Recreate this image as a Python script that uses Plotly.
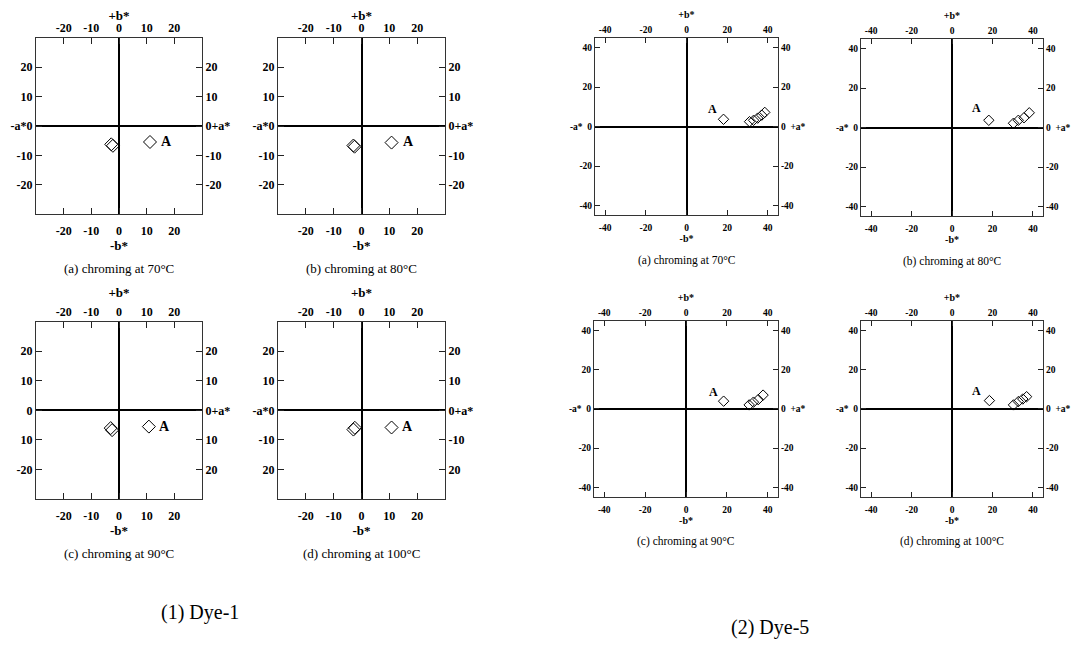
import plotly.graph_objects as go

OFF = 8                      # page body margin of the browser
W, H = 1088 - 2 * OFF, 647 - 2 * OFF

# ---------------- data ----------------
panel_keys = ["d1a", "d1b", "d1c", "d1d", "d5a", "d5b", "d5c", "d5d"]
captions = {
    "d1a": "(a) chroming at 70°C", "d1b": "(b) chroming at 80°C",
    "d1c": "(c) chroming at 90°C", "d1d": "(d) chroming at 100°C",
    "d5a": "(a) chroming at 70°C", "d5b": "(b) chroming at 80°C",
    "d5c": "(c) chroming at 90°C", "d5d": "(d) chroming at 100°C",
}
# b* (x) and a* (y) values of the samples
b_vals = {
    "d1a": [-2.8, -2.2], "d1b": [-2.9, -2.5], "d1c": [-3.0, -2.5], "d1d": [-2.9, -2.4],
    "d5a": [31, 33, 35, 37, 38.5], "d5b": [30.4, 32.8, 35.6, 38.2],
    "d5c": [30.9, 33, 35.3, 37.7], "d5d": [30.4, 32.8, 35, 36.9],
}
a_vals = {
    "d1a": [-6.2, -6.7], "d1b": [-6.6, -7.0], "d1c": [-6.0, -6.7], "d1d": [-6.5, -5.9],
    "d5a": [2.5, 3.2, 4.3, 5.8, 7.2], "d5b": [2.2, 3.7, 5.0, 7.5],
    "d5c": [2.0, 3.4, 4.7, 7.0], "d5d": [2.0, 3.7, 5.0, 6.2],
}
# sample A
A_b = {"d1a": 11.2, "d1b": 10.8, "d1c": 10.8, "d1d": 10.8,
       "d5a": 18.2, "d5b": 18.2, "d5c": 18.4, "d5d": 18.5}
A_a = {"d1a": -5.4, "d1b": -5.6, "d1c": -5.5, "d1d": -5.8,
       "d5a": 3.7, "d5b": 3.7, "d5c": 3.9, "d5d": 4.2}
# label "A" positions
A_lab_b = {"d1a": 17.0, "d1b": 16.8, "d1c": 16.6, "d1d": 16.6,
           "d5a": 13.0, "d5b": 12.2, "d5c": 13.5, "d5d": 12.2}
A_lab_a = {"d1a": -5.4, "d1b": -5.4, "d1c": -5.4, "d1d": -5.6,
           "d5a": 9.0, "d5b": 10.0, "d5c": 8.4, "d5d": 9.2}

d1_ticks = [-20, -10, 0, 10, 20]
d1_xlabels = ["-20", "-10", "0", "10", "20"]
d1_left = {
    "d1a": ["-20", "-10", "-a*0", "10", "20"],
    "d1b": ["-20", "-10", "-a*0", "10", "20"],
    "d1c": ["-20", "10", "0", "10", "20"],
    "d1d": ["20", "-10", "-a*0", "10", "20"],
}
d1_right = {
    "d1a": ["-20", "-10", "0+a*", "10", "20"],
    "d1b": ["-20", "-10", "0+a*", "10", "20"],
    "d1c": ["20", "10", "0+a*", "10", "20"],
    "d1d": ["20", "-10", "0+a*", "10", "20"],
}
d5_ticks = [-40, -20, 0, 20, 40]
d5_xlabels = ["-40", "-20", "0", "20", "40"]
d5_left = ["-40", "-20", "-a*  0", "20", "40"]
d5_right = ["-40", "-20", "0  +a*", "20", "40"]

# ---------------- layout geometry (screen pixels) ----------------
boxes = {
    "d1a": (36, 202, 33, 211), "d1b": (278, 445, 33, 211),
    "d1c": (36, 202, 319, 498), "d1d": (278, 445, 319, 498),
    "d5a": (595, 778, 33, 212), "d5b": (861, 1043, 34, 213),
    "d5c": (594, 778, 318, 496), "d5d": (861, 1043, 318, 496),
}


def px(x):
    return (x - OFF) / W


def py(y):
    return 1 - (y - OFF) / H


fig = go.Figure()
layout = dict(width=W, height=H, margin=dict(l=0, r=0, t=0, b=0),
              paper_bgcolor="white", plot_bgcolor="white", showlegend=False)
annotations = []

SERIF = "Liberation Serif"

for i, k in enumerate(panel_keys):
    x0, x1, y0, y1 = boxes[k]
    dx = [px(x0), px(x1)]
    dy = [py(y1), py(y0)]
    is1 = k.startswith("d1")
    rng = [-30, 30] if is1 else [-45, 45]
    ticks = d1_ticks if is1 else d5_ticks
    xl = d1_xlabels if is1 else d5_xlabels
    left = d1_left[k] if is1 else d5_left
    right = d1_right[k] if is1 else d5_right
    tf = dict(family=SERIF, size=12 if is1 else 9.5, color="black", weight="bold")
    titf = dict(family=SERIF, size=13 if is1 else 10, color="black", weight="bold")
    tlen = 6 if is1 else 5

    n1, n2 = 2 * i + 1, 2 * i + 2
    xa, xb = f"x{n1}", f"x{n2}"
    ya, yb = f"y{n1}", f"y{n2}"

    common = dict(range=rng, tickvals=ticks, ticks="inside", ticklen=tlen,
                  tickcolor="#222", tickwidth=1, showgrid=False,
                  showline=True, linecolor="#333", linewidth=1, tickfont=tf,
                  fixedrange=True)

    layout[f"xaxis{n1}"] = dict(common, domain=dx, anchor=ya, side="bottom",
                                ticktext=xl, zeroline=True, zerolinecolor="black",
                                zerolinewidth=2, ticklabelstandoff=5 if is1 else 3,
                                title=dict(text="-b*", font=titf, standoff=3))
    layout[f"xaxis{n2}"] = dict(common, overlaying=xa, anchor=ya, side="top",
                                ticktext=xl, zeroline=False,
                                title=dict(text="+b*", font=titf, standoff=4))
    layout[f"yaxis{n1}"] = dict(common, domain=dy, anchor=xa, side="left",
                                ticktext=left, zeroline=True, zerolinecolor="black",
                                zerolinewidth=2)
    layout[f"yaxis{n2}"] = dict(common, overlaying=ya, anchor=xa, side="right",
                                ticktext=right, zeroline=False)

    # samples
    fig.add_trace(go.Scatter(
        x=b_vals[k] + [A_b[k]], y=a_vals[k] + [A_a[k]], mode="markers",
        xaxis=xa, yaxis=ya, hoverinfo="skip",
        marker=dict(symbol="diamond-open", size=10 if is1 else 8,
                    color="black", line=dict(width=1, color="black"))))
    # dummy for overlay axes
    fig.add_trace(go.Scatter(x=[], y=[], xaxis=xb, yaxis=yb, mode="markers",
                             hoverinfo="skip"))

    annotations.append(dict(x=A_lab_b[k], y=A_lab_a[k], xref=xa, yref=ya,
                            text="A", showarrow=False, xanchor="center",
                            yanchor="middle",
                            font=dict(family=SERIF, size=14 if is1 else 12,
                                      color="black", weight="bold")))
    # caption
    cy = y1 + (55 if is1 else 45)
    annotations.append(dict(x=px((x0 + x1) / 2), y=py(cy), xref="paper",
                            yref="paper", text=captions[k], showarrow=False,
                            xanchor="center", yanchor="middle",
                            font=dict(family=SERIF, size=13 if is1 else 11.5,
                                      color="black")))

annotations.append(dict(x=px(200), y=py(612), xref="paper", yref="paper",
                        text="(1) Dye-1", showarrow=False, xanchor="center",
                        yanchor="middle",
                        font=dict(family=SERIF, size=20, color="black")))
annotations.append(dict(x=px(770), y=py(627), xref="paper", yref="paper",
                        text="(2) Dye-5", showarrow=False, xanchor="center",
                        yanchor="middle",
                        font=dict(family=SERIF, size=20, color="black")))

layout["annotations"] = annotations
fig.update_layout(**layout)
fig.write_html("out.html")
